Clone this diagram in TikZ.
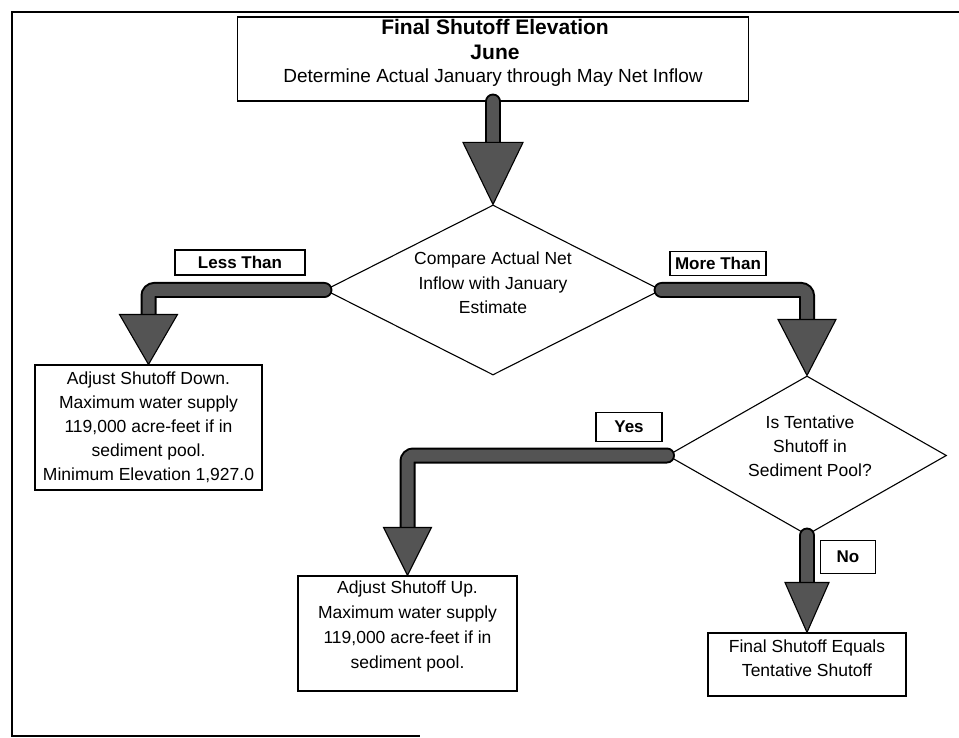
\documentclass[tikz,border=0pt]{standalone}
\usepackage{fontspec}
\setmainfont{Liberation Sans}
\usetikzlibrary{shapes.geometric,calc}
\definecolor{shade}{gray}{0.33}
\tikzset{
  frame/.style={line width=1.8pt},
  boxshape/.style={draw=black, line width=1.1pt, fill=white, inner sep=0pt, rectangle},
  body/.style={inner sep=0pt, align=center, font=\fontsize{17.5}{24.5}\selectfont},
  heading/.style={inner sep=0pt, font=\bfseries\fontsize{21}{25}\selectfont},
  lblbox/.style={draw=black, line width=1.1pt, fill=white, inner sep=0pt, font=\bfseries\fontsize{17}{20}\selectfont},
  decision/.style={draw=black, line width=1.1pt, diamond, inner sep=0pt},
  shaftout/.style={draw=black, line width=16pt, line cap=round, rounded corners=6pt},
  shaftin/.style={draw=shade, line width=12pt, line cap=round, rounded corners=6pt},
  headfill/.style={fill=shade, draw=black, line width=1.1pt, line join=miter},
}
\newcommand\dnhead[3]{\filldraw[headfill] (#1) -- ++(-#2,-#3) -- ++(2*#2,0) -- cycle;}
\begin{document}
\begin{tikzpicture}[x=1pt,y=-1pt]
\useasboundingbox (0,0) rectangle (959,738);
\draw[frame] (959,12) -- (12,12) -- (12,736) -- (420,736);

% boxes
\node[boxshape, minimum width=511pt, minimum height=84pt] (top) at (493,59) {};
\node[heading, anchor=base] (t1) at (495,34.5) {Final Shutoff Elevation};
\node[heading, anchor=base] (t2) at (495,59.5) {June};
\node[body, anchor=base, font=\fontsize{19}{24}\selectfont] (t3) at (493,83) {Determine Actual January through May Net Inflow};

\node[decision, minimum width=336pt, minimum height=170pt] (d1) at (493,290) {};
\node[body, anchor=north] (d1t) at (493,251.7) {Compare Actual Net\\Inflow with January\\Estimate};

\node[decision, minimum width=279pt, minimum height=159pt] (d2) at (807,455.5) {};
\node[body, anchor=north, font=\fontsize{17.5}{24}\selectfont] (d2t) at (810,415.7) {Is Tentative\\Shutoff in\\Sediment Pool?};

\node[boxshape, minimum width=227pt, minimum height=125pt] (box1) at (148.5,427.5) {};
\node[body, anchor=north, font=\fontsize{17.5}{24}\selectfont] (b1t) at (148.5,371.7) {Adjust Shutoff Down.\\Maximum water supply\\119,000 acre-feet if in\\sediment pool.\\Minimum Elevation 1,927.0};

\node[boxshape, minimum width=219pt, minimum height=115pt] (box2) at (407.5,633.5) {};
\node[body, anchor=north, font=\fontsize{17.5}{25}\selectfont] (b2t) at (407.5,580.7) {Adjust Shutoff Up.\\Maximum water supply\\119,000 acre-feet if in\\sediment pool.};

\node[boxshape, minimum width=198pt, minimum height=63pt] (box3) at (807,664.5) {};
\node[body, anchor=north, font=\fontsize{17.5}{24}\selectfont] (b3t) at (807,639.7) {Final Shutoff Equals\\Tentative Shutoff};

% labels
\node[lblbox, minimum width=130pt, minimum height=25pt] (less) at (240,262.5) {Less Than};
\node[lblbox, minimum width=96pt, minimum height=24pt] (more) at (718,263.5) {More Than};
\node[lblbox, minimum width=66pt, minimum height=29pt] (yes) at (629,427) {Yes};
\node[lblbox, minimum width=55pt, minimum height=33pt] (no) at (848,557) {No};

% connectors
\coordinate (a0) at ($(d1.north)+(0,-58)$);
\coordinate (a1) at ($(box1.north)+(0,-45)$);
\coordinate (a2) at ($(d2.north)+(0,-50)$);
\coordinate (a3) at ($(box2.north)+(0,-44)$);
\coordinate (a4) at ($(box3.north)+(0,-44)$);

\foreach \s in {shaftout,shaftin}{
  \draw[\s] (top.south) -- (a0);
  \draw[\s] (d1.west) -| (a1);
  \draw[\s] (d1.east) -| (a2);
  \draw[\s] (d2.west) -| (a3);
  \draw[\s] (d2.south) -- (a4);
}
\dnhead{d1.north}{30}{62}
\dnhead{box1.north}{29}{50}
\dnhead{d2.north}{29}{56}
\dnhead{box2.north}{24}{48}
\dnhead{box3.north}{22}{50}
\end{tikzpicture}
\end{document}
